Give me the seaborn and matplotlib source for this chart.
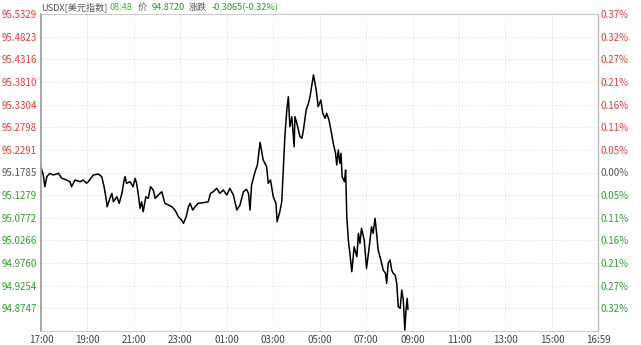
import matplotlib
matplotlib.use("Agg")
import matplotlib.pyplot as plt
import seaborn as sns
import pandas as pd

# ---------------- data ----------------
times = ["17:00","17:06","17:10","17:15","17:23","17:32","17:45","17:53","18:06","18:15",
         "18:19","18:28","18:41","18:49","18:58","19:07","19:15","19:28","19:37","19:43",
         "19:48","19:51","19:58","20:03","20:07","20:16","20:22","20:29","20:34","20:37",
         "20:41","20:50","20:58","21:03","21:07","21:11","21:16","21:20","21:24","21:31",
         "21:37","21:43","21:50","21:55","22:03","22:12","22:20","22:29","22:38","22:46",
         "22:55","23:03","23:08","23:15","23:21","23:25","23:32","23:38","23:46","23:59",
         "00:12","00:18","00:25","00:34","00:42","00:51","01:00","01:08","01:17","01:26",
         "01:34","01:43","01:51","01:56","02:00","02:04","02:13","02:19","02:26","02:34",
         "02:43","02:47","02:53","03:00","03:07","03:10","03:17","03:22","03:26","03:30",
         "03:35","03:39","03:43","03:48","03:54","03:56","04:01","04:09","04:14","04:18",
         "04:25","04:31","04:35","04:39","04:44","04:51","04:56","05:03","05:08","05:14",
         "05:18","05:24","05:29","05:35","05:41","05:44","05:48","05:52","05:55","05:58",
         "06:04","06:07","06:10","06:14","06:18","06:23","06:29","06:36","06:40","06:44",
         "06:48","06:55","07:01","07:07","07:14","07:18","07:23","07:27","07:31","07:38",
         "07:44","07:50","07:53","07:57","08:02","08:06","08:10","08:15","08:19","08:23",
         "08:28","08:32","08:36","08:40","08:43","08:46","08:48"]

prices = [95.1901,95.1729,95.1467,95.1691,95.1767,95.1729,95.1767,95.1661,95.1617,95.1579,
          95.1467,95.1617,95.1579,95.1617,95.1543,95.1632,95.1729,95.1751,95.1691,95.1467,
          95.1207,95.1020,95.1207,95.1319,95.1131,95.1243,95.1096,95.1319,95.1579,95.1691,
          95.1543,95.1579,95.1467,95.1655,95.1543,95.1319,95.0984,95.1131,95.0908,95.1243,
          95.1207,95.1467,95.1393,95.1207,95.1281,95.1355,95.1096,95.1058,95.1020,95.0946,
          95.0796,95.0722,95.0648,95.0796,95.1020,95.1096,95.0946,95.1020,95.1096,95.1109,
          95.1131,95.1319,95.1355,95.1431,95.1319,95.1393,95.1281,95.1431,95.1281,95.0946,
          95.1058,95.1355,95.1409,95.1319,95.0946,95.1505,95.1802,95.1952,95.2460,95.2064,
          95.1914,95.1543,95.1617,95.1243,95.1096,95.0684,95.0908,95.1131,95.1885,95.2585,
          95.3182,95.3480,95.2809,95.3032,95.2361,95.3032,95.2885,95.2585,95.2549,95.2735,
          95.3182,95.3332,95.3480,95.3703,95.3965,95.3629,95.3256,95.3406,95.3108,95.2997,
          95.3108,95.2959,95.2735,95.2437,95.2214,95.1952,95.2288,95.1990,95.2214,95.1691,
          95.1579,95.1840,95.0796,95.0275,94.9978,94.9566,95.0125,94.9901,95.0425,95.0201,
          95.0537,95.0275,94.9642,95.0051,95.0572,95.0425,95.0760,95.0425,95.0051,94.9828,
          94.9604,94.9530,94.9307,94.9754,94.9828,94.9604,94.9530,94.9492,94.9307,94.8783,
          94.8748,94.9157,94.8933,94.8262,94.8710,94.8971,94.8720]

base_price = 95.1785
y_ticks = [95.5329, 95.4823, 95.4316, 95.3810, 95.3304, 95.2798, 95.2291,
           95.1785, 95.1279, 95.0772, 95.0266, 94.9760, 94.9254, 94.8747]
y_min = 94.8241
x_tick_labels = ["17:00","19:00","21:00","23:00","01:00","03:00","05:00",
                 "07:00","09:00","11:00","13:00","15:00","16:59"]
session_start = "17:00"

title_parts = [("USDX[美元指数]", "#555555"), ("08:48", "#3cb83c"), ("价", "#555555"),
               ("94.8720", "#2a9a2a"), ("涨跌", "#555555"), ("-0.3065(-0.32%)", "#2a9a2a")]

# ---------------- helpers ----------------
def to_min(t):
    h, m = map(int, t.split(":"))
    s_h, s_m = map(int, session_start.split(":"))
    return ((h * 60 + m) - (s_h * 60 + s_m)) % 1440

df = pd.DataFrame({"minute": [to_min(t) for t in times], "price": prices})

RED = "#e23b3b"
GREEN = "#2f9e2f"
NEUTRAL = "#555555"

def tick_color(v):
    if abs(v - base_price) < 1e-6:
        return NEUTRAL
    return RED if v > base_price else GREEN

# ---------------- plot ----------------
sns.set_style("white")
plt.rcParams["font.family"] = ["Noto Sans CJK SC", "DejaVu Sans"]

W, H = 641, 345
fig = plt.figure(figsize=(W / 100, H / 100), dpi=100)
ax = fig.add_axes([41 / W, 1 - 331 / H, (598 - 41) / W, (331 - 14) / H])

sns.lineplot(data=df, x="minute", y="price", ax=ax, color="black",
             linewidth=1.1, estimator=None, sort=False)

ax.set_xlim(0, 1439)
ax.set_ylim(y_min, y_ticks[0])

x_ticks = [to_min(t) for t in x_tick_labels]
x_ticks[-1] = 1439
ax.set_xticks(x_ticks)
ax.set_xticklabels(x_tick_labels, fontsize=7, color="#444444")
ax.set_yticks(y_ticks)
ax.set_yticklabels([f"{v:.4f}" for v in y_ticks], fontsize=7)
for lbl, v in zip(ax.get_yticklabels(), y_ticks):
    lbl.set_color(tick_color(v))
ax.tick_params(axis="both", length=0, pad=3)
ax.set_xlabel("")
ax.set_ylabel("")

ax.grid(True, color="#e4e4e4", linestyle=(0, (1.5, 1.5)), linewidth=0.7)
ax.set_axisbelow(True)

for side, sp in ax.spines.items():
    sp.set_visible(True)
    sp.set_color("#cccccc")
    sp.set_linewidth(0.8)
ax.spines["left"].set_color("#9a9a9a")
ax.spines["left"].set_linewidth(1.2)
ax.spines["right"].set_color("#bbbbbb")
ax.spines["right"].set_linewidth(1.0)

ax2 = ax.twinx()
ax2.set_ylim(ax.get_ylim())
ax2.set_yticks(y_ticks)
ax2.set_yticklabels([f"{abs(v - base_price) / base_price * 100:.2f}%" for v in y_ticks],
                    fontsize=7)
for lbl, v in zip(ax2.get_yticklabels(), y_ticks):
    lbl.set_color(tick_color(v))
ax2.tick_params(axis="y", length=0, pad=2)
for sp in ax2.spines.values():
    sp.set_visible(False)

# title pieces at the reference's left edges
x_positions = [41, 110, 138, 152, 189, 212]
for (txt, col), xp in zip(title_parts, x_positions):
    fig.text(xp / W, 1 - 7.5 / H, txt, color=col, fontsize=6.6,
             ha="left", va="center")

fig.savefig("out.png", dpi=100)
